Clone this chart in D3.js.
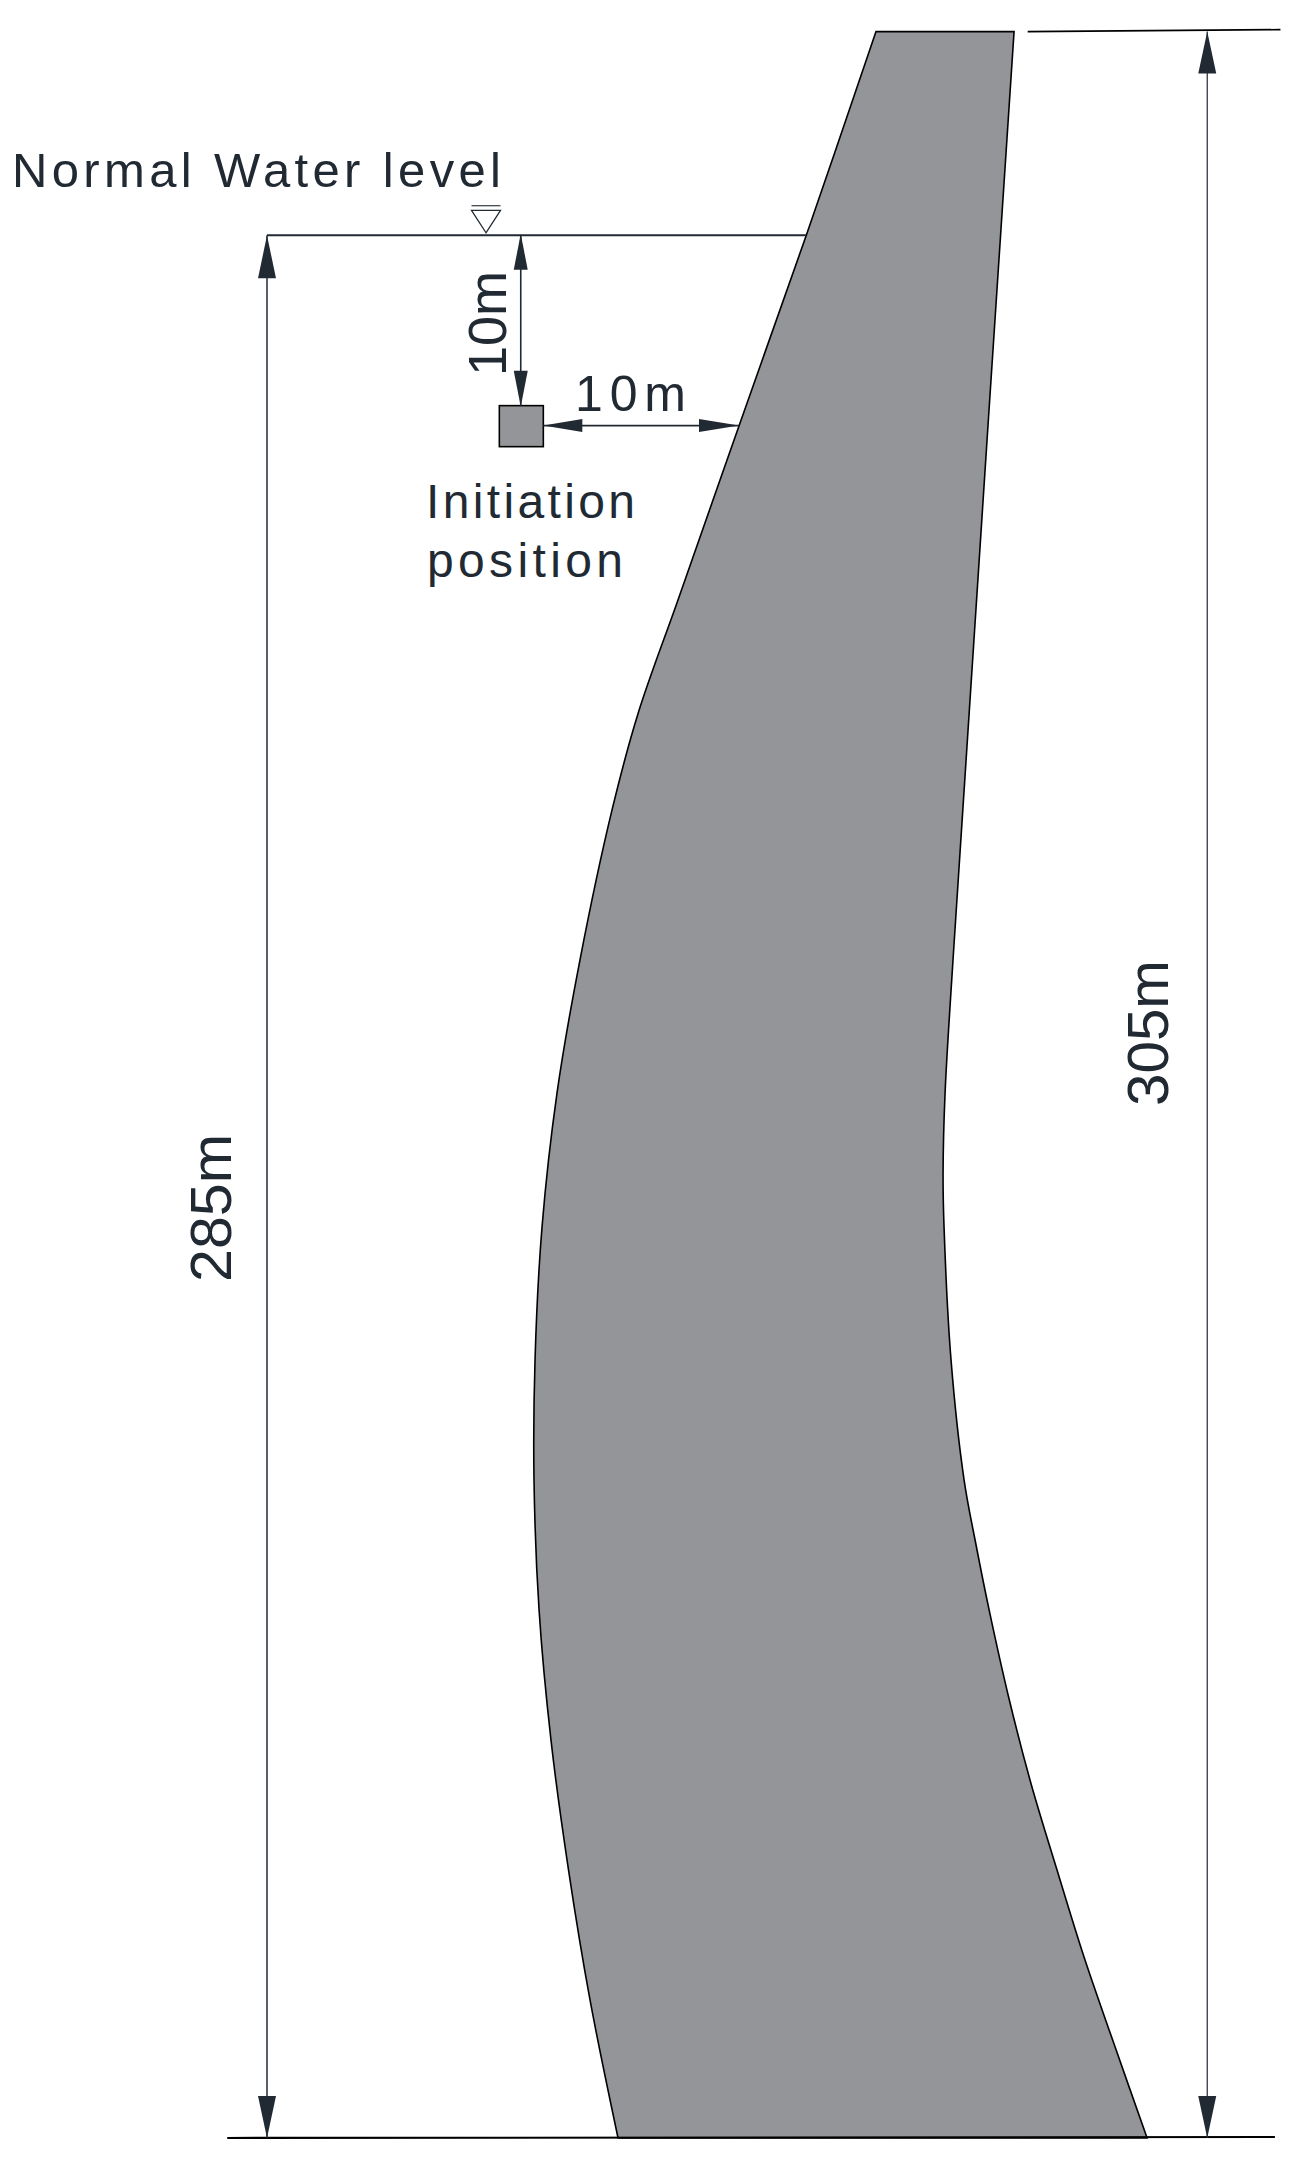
<!DOCTYPE html>
<html>
<head>
<meta charset="utf-8">
<script src="https://cdnjs.cloudflare.com/ajax/libs/d3/7.8.5/d3.min.js"></script>
<style>
  html, body { margin: 0; background: #fff; }
  svg { display: block; }
  text { font-family: "Liberation Sans", Arial, sans-serif; fill: #212a33; }
</style>
</head>
<body>
<script>
// dam section, metres: [distance from the sheet's left edge, elevation above base]
const upstreamFace = [
  [126.84, 305], [116.71, 275.4], [107.0, 247.9], [98.17, 222.7], [92.4, 206.3],
  [88.62, 192.3], [83.98, 170.6], [80.65, 151.3], [78.48, 131.9], [77.47, 112.7],
  [77.32, 95.3], [78.05, 76.5], [79.78, 57.6], [82.32, 38.8], [85.43, 20.0], [89.49, 0],
];
const downstreamFace = [
  [146.83, 305], [142.92, 245.9], [139.88, 199.5], [137.99, 170.6], [136.84, 151.3],
  [136.55, 139.7], [136.69, 131.9], [137.7, 112.7], [139.59, 95.3], [141.32, 85.9],
  [143.21, 76.5], [146.03, 63.9], [149.29, 51.3], [153.05, 38.8], [156.96, 26.2],
  [161.31, 13.6], [166.09, 0],
];

const damHeight = 305;
const waterElevation = 275.5;
const waterLine = [38.66, 116.71];
const waterMarkX = 70.37;
const baseLine = [32.9, 184.6];
const crestLine = [148.8, 185.4];
const heightDimX = 174.8;
const levelDimX = 38.66;
const initiationBox = { x: [72.3, 78.67], elevation: [244.9, 250.84] };
const depthDimX = 75.4;
const standoffDim = { x: [78.67, 107.0], elevation: 247.95 };

const labels = {
  water: 'Normal Water level',
  initiation: ['Initiation', 'position'],
  depth: '10m',
  standoff: '10m',
  level: '285m',
  height: '305m',
};

const width = 1306;
const height = 2168;
const ink = '#212a33';
const damFill = '#939598';

const x = d3.scaleLinear().domain([0, 189.1]).range([0, width]);
const y = d3.scaleLinear().domain([0, damHeight]).range([2138, 31.6]);

const svg = d3.select('body').append('svg')
  .attr('width', width)
  .attr('height', height)
  .attr('viewBox', `0 0 ${width} ${height}`);

const faceLine = d3.line()
  .x(d => x(d[0]))
  .y(d => y(d[1]))
  .curve(d3.curveCatmullRom.alpha(0.5));

// outline runs down the upstream face, along the base, back up the downstream face
const upPath = faceLine(upstreamFace);
const downPath = faceLine(downstreamFace.slice().reverse());
svg.append('path')
  .attr('d', `${upPath}L${downPath.slice(1)}Z`)
  .attr('fill', damFill)
  .attr('stroke', '#000')
  .attr('stroke-width', 1.6)
  .attr('stroke-linejoin', 'miter');

function rule(x1, y1, x2, y2, strokeWidth, color) {
  svg.append('line')
    .attr('x1', x1).attr('y1', y1)
    .attr('x2', x2).attr('y2', y2)
    .attr('stroke', color || ink)
    .attr('stroke-width', strokeWidth);
}

// arrowhead with its tip at (tipX, tipY), pointing along (dx, dy)
function arrow(tipX, tipY, dx, dy, length, spread) {
  const bx = tipX - dx * length;
  const by = tipY - dy * length;
  const px = -dy * spread / 2;
  const py = dx * spread / 2;
  svg.append('path')
    .attr('d', `M${tipX},${tipY}L${bx + px},${by + py}L${bx - px},${by - py}Z`)
    .attr('fill', ink);
}

// extension lines
rule(x(baseLine[0]), y(0), x(baseLine[1]), y(0) - 1, 2.2, '#000');
rule(x(crestLine[0]), y(damHeight), x(crestLine[1]), y(damHeight) - 2, 1.6, '#000');
rule(x(waterLine[0]), y(waterElevation), x(waterLine[1]), y(waterElevation), 2, ink);

// tall dimensions
rule(x(levelDimX), y(waterElevation), x(levelDimX), y(0), 1.5);
arrow(x(levelDimX), y(waterElevation), 0, -1, 43, 18);
arrow(x(levelDimX), y(0), 0, 1, 42, 18);

rule(x(heightDimX), y(damHeight), x(heightDimX), y(0), 1.2);
arrow(x(heightDimX), y(damHeight), 0, -1, 42, 18);
arrow(x(heightDimX), y(0), 0, 1, 42, 18);

// initiation box and its two offsets
svg.append('rect')
  .attr('x', x(initiationBox.x[0]))
  .attr('y', y(initiationBox.elevation[1]))
  .attr('width', x(initiationBox.x[1]) - x(initiationBox.x[0]))
  .attr('height', y(initiationBox.elevation[0]) - y(initiationBox.elevation[1]))
  .attr('fill', damFill)
  .attr('stroke', '#000')
  .attr('stroke-width', 1.6);

rule(x(depthDimX), y(waterElevation), x(depthDimX), y(initiationBox.elevation[1]), 1.6);
arrow(x(depthDimX), y(waterElevation) - 1.5, 0, -1, 36, 14);
arrow(x(depthDimX), y(initiationBox.elevation[1]) + 1, 0, 1, 36, 14);

const standoffY = y(standoffDim.elevation);
rule(x(standoffDim.x[0]), standoffY, x(standoffDim.x[1]), standoffY, 1.6);
arrow(x(standoffDim.x[0]), standoffY, -1, 0, 39, 13);
arrow(x(standoffDim.x[1]), standoffY, 1, 0, 40, 13);

// water level mark
const markX = x(waterMarkX);
const markTipY = y(waterElevation) - 2.6;
svg.append('path')
  .attr('d', `M${markX},${markTipY}L${markX - 14.5},${markTipY - 22.4}L${markX + 14.5},${markTipY - 22.4}Z`)
  .attr('fill', '#fff')
  .attr('stroke', ink)
  .attr('stroke-width', 1.3);
rule(markX - 14.5, markTipY - 27, markX + 14.5, markTipY - 27, 1.1);

// text
function label(text, px, py, size, length) {
  return svg.append('text')
    .attr('x', px)
    .attr('y', py)
    .attr('font-size', size)
    .attr('textLength', length)
    .attr('lengthAdjust', 'spacing')
    .text(text);
}

function sideLabel(text, px, py, size, length) {
  return svg.append('text')
    .attr('transform', `translate(${px},${py}) rotate(-90)`)
    .attr('font-size', size)
    .attr('textLength', length)
    .attr('lengthAdjust', 'spacingAndGlyphs')
    .text(text);
}

label(labels.water, 12, 187, 49, 489);
label(labels.initiation[0], 426, 518, 48, 209);
label(labels.initiation[1], 427, 577, 48, 196);
label(labels.standoff, 575, 411, 50, 111);

sideLabel(labels.depth, 506, 376, 54, 105);
sideLabel(labels.level, 231, 1282, 57, 148);
sideLabel(labels.height, 1168, 1106, 57, 146);
</script>
</body>
</html>
